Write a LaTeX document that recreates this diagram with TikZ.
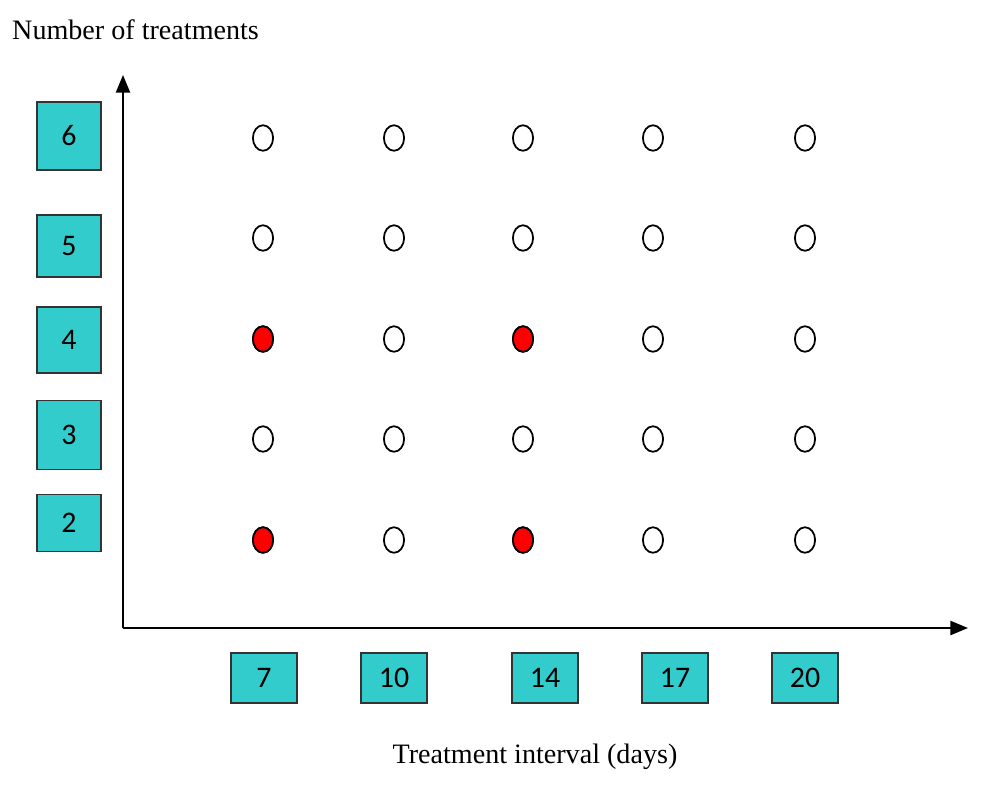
\documentclass[tikz,border=0pt]{standalone}
\usepackage{fontspec}
\setmainfont{Liberation Serif}
\newfontfamily\boxfont{Carlito}
\usetikzlibrary{arrows.meta,shapes.geometric}
\definecolor{boxcyan}{RGB}{51,204,204}
\definecolor{dotred}{RGB}{255,0,0}

\begin{document}
\begin{tikzpicture}[x=0.02cm,y=-0.02cm,
  axis/.style={line width=1.1pt,-{Triangle[length=10pt,width=8pt]}},
  valbox/.style={draw=black!80,fill=boxcyan,line width=0.8pt,inner sep=0pt,
                 font=\boxfont\fontsize{17}{19}\selectfont},
  trial/.style={draw,ellipse,line width=1pt,inner sep=0pt,
                minimum width=11.5pt,minimum height=14.5pt},
  hit/.style={trial,fill=dotred}]
\useasboundingbox (0,0) rectangle (981,792);
% axes
\coordinate (origin) at (123,628);
\coordinate (ytip) at (123,75);
\coordinate (xtip) at (968,628);
\draw[axis] (origin) -- (ytip);
\draw[axis] (origin) -- (xtip);
% axis titles
\node[anchor=west,font=\fontsize{16}{18}\selectfont] (ytitle) at (6,30) {Number of treatments};
\node[font=\fontsize{16}{18}\selectfont] (xtitle) at (535,757) {Treatment interval (days)};
% number of treatments
\foreach \n/\y/\h in {6/136/68,5/246/62,4/340/66,3/435/69,2/523/57}
  \node[valbox,minimum width=36.3pt,minimum height=\h*0.567pt] (n\n) at (69,\y) {\n};
% treatment interval
\foreach \d/\x in {7/264,10/394,14/545,17/675,20/805}
  \node[valbox,minimum width=37.4pt,minimum height=28.4pt] (d\d) at (\x,678) {\d};
% grid of trials
\foreach \n/\y in {6/138,5/238,4/339,3/439,2/540}
  \foreach \d/\x in {7/263,10/394,14/523,17/653,20/805}
    \node[trial] (t\n-\d) at (\x,\y) {};
\foreach \n/\y in {4/339,2/540}
  \foreach \d/\x in {7/263,14/523}
    \node[hit] (h\n-\d) at (\x,\y) {};
\end{tikzpicture}
\end{document}
